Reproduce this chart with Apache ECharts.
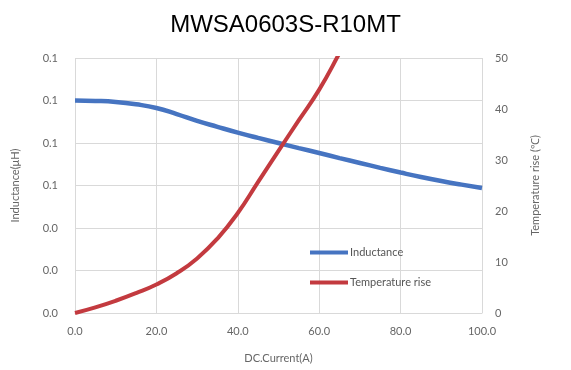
<!DOCTYPE html>
<html>
<head>
<meta charset="utf-8">
<script src="https://cdn.jsdelivr.net/npm/echarts@6/dist/echarts.min.js"></script>
<style>html,body{margin:0;padding:0;background:#fff}#c{width:571px;height:370px}</style>
</head>
<body>
<div id="c"></div>
<script>
const titleText = 'MWSA0603S-R10MT';
const currentX = [0, 5, 10, 15, 20, 25, 30, 35, 40, 45, 50, 55, 60, 65, 70, 75, 80, 85, 90, 95, 100];
const inductance = [0.1000, 0.0998, 0.0993, 0.0982, 0.0965, 0.0936, 0.0904, 0.0876, 0.0849, 0.0824, 0.0800, 0.0776, 0.0753, 0.0729, 0.0706, 0.0683, 0.0661, 0.0640, 0.0621, 0.0604, 0.0588];
const tempX = [0, 5, 10, 15, 20, 25, 30, 35, 40, 45, 50, 55, 60, 65, 70];
const tempRise = [0, 1.1, 2.4, 3.9, 5.6, 7.8, 10.7, 14.6, 19.6, 25.7, 31.8, 37.8, 43.8, 51.0, 58.5];
const seriesNames = ['Inductance', 'Temperature rise'];
const axisNames = { x: 'DC.Current(A)', left: 'Inductance(μH)', right: 'Temperature rise (℃)' };

const chart = echarts.init(document.getElementById('c'), null, { renderer: 'canvas' });
const lblFont = { color: '#666', fontFamily: 'Lato', fontSize: 11 };
chart.setOption({
  animation: false,
  backgroundColor: '#fff',
  title: {
    text: titleText, left: 'center', top: 8,
    textStyle: { fontFamily: 'Liberation Sans', fontSize: 24, fontWeight: 'normal', color: '#000' }
  },
  grid: { left: 75, right: 89, top: 58, bottom: 57 },
  legend: {
    orient: 'vertical', left: 305, top: 242, itemGap: 19,
    icon: 'rect', itemWidth: 38, itemHeight: 4,
    textStyle: { color: '#555', fontFamily: 'Lato', fontSize: 11, padding: [0, 0, 0, -3] },
    data: seriesNames
  },
  xAxis: {
    type: 'value', min: 0, max: 100, interval: 20,
    name: axisNames.x, nameLocation: 'middle', nameGap: 40,
    nameTextStyle: { color: '#666', fontFamily: 'Lato', fontSize: 11 },
    axisLine: { show: true, lineStyle: { color: '#d9d9d9' } },
    axisTick: { show: false },
    axisLabel: Object.assign({ margin: 13, formatter: v => v.toFixed(1) }, lblFont),
    splitLine: { show: true, lineStyle: { color: '#d9d9d9' } }
  },
  yAxis: [
    {
      type: 'value', min: 0, max: 0.12, interval: 0.02, position: 'left',
      name: axisNames.left, nameLocation: 'middle', nameGap: 54, nameRotate: 90,
      nameTextStyle: { color: '#666', fontFamily: 'Lato', fontSize: 11 },
      axisLine: { show: false }, axisTick: { show: false },
      axisLabel: Object.assign({ margin: 17, formatter: v => v.toFixed(1) }, lblFont),
      splitLine: { show: true, lineStyle: { color: '#d9d9d9' } }
    },
    {
      type: 'value', min: 0, max: 50, interval: 10, position: 'right',
      name: axisNames.right, nameLocation: 'middle', nameGap: 48, nameRotate: 90,
      nameTextStyle: { color: '#666', fontFamily: 'Lato', fontSize: 11 },
      axisLine: { show: false }, axisTick: { show: false },
      axisLabel: Object.assign({ margin: 13 }, lblFont),
      splitLine: { show: false }
    }
  ],
  series: [
    {
      name: seriesNames[0], type: 'line', yAxisIndex: 0, smooth: true, showSymbol: false,
      data: currentX.map((x, i) => [x, inductance[i]]),
      lineStyle: { color: '#4674C1', width: 4.5 }, itemStyle: { color: '#4674C1' }
    },
    {
      name: seriesNames[1], type: 'line', yAxisIndex: 1, smooth: true, showSymbol: false, clip: true,
      data: tempX.map((x, i) => [x, tempRise[i]]),
      lineStyle: { color: '#C33A3F', width: 4 }, itemStyle: { color: '#C33A3F' }
    }
  ]
});
</script>
</body>
</html>
